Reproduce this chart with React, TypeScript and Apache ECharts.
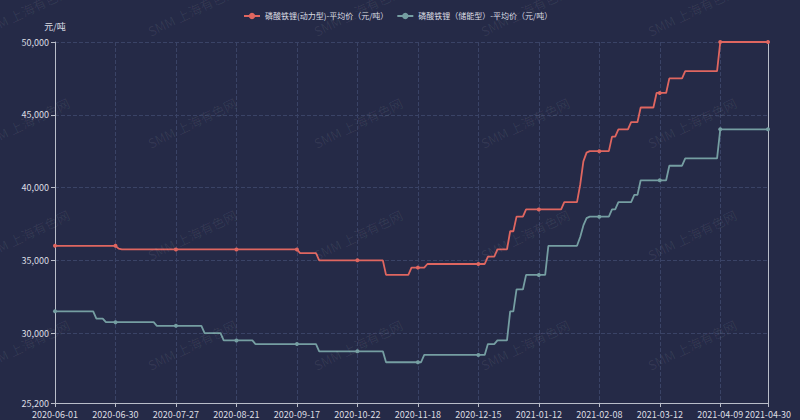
import { useEffect, useRef } from 'react';
import * as echarts from 'echarts';

const FONT = "'Noto Sans CJK SC', 'Noto Sans', sans-serif";

// Trading days (weekdays minus Chinese public holidays)
const startDate = '2020-06-01';
const endDate = '2021-04-30';
const holidays = [
  '2020-06-25', '2020-06-26',
  '2020-10-01', '2020-10-02', '2020-10-05', '2020-10-06', '2020-10-07', '2020-10-08',
  '2021-01-01',
  '2021-02-11', '2021-02-12', '2021-02-15', '2021-02-16', '2021-02-17',
  '2021-04-05',
];

// Tick labels shown on the x axis
const tickDates = [
  '2020-06-01', '2020-06-30', '2020-07-27', '2020-08-21', '2020-09-17', '2020-10-22',
  '2020-11-18', '2020-12-15', '2021-01-12', '2021-02-08', '2021-03-12', '2021-04-09', '2021-04-30',
];

const seriesNames = ['磷酸铁锂(动力型)-平均价（元/吨）', '磷酸铁锂（储能型）-平均价（元/吨）'];

// 磷酸铁锂(动力型) daily average price, one value per trading day
const powerPrice = [
  // Jun (20)
  36000, 36000, 36000, 36000, 36000, 36000, 36000, 36000, 36000, 36000,
  36000, 36000, 36000, 36000, 36000, 36000, 36000, 36000, 36000, 36000,
  // Jul (23)
  35800, 35750, 35750, 35750, 35750, 35750, 35750, 35750, 35750, 35750,
  35750, 35750, 35750, 35750, 35750, 35750, 35750, 35750, 35750, 35750,
  35750, 35750, 35750,
  // Aug (21)
  35750, 35750, 35750, 35750, 35750, 35750, 35750, 35750, 35750, 35750,
  35750, 35750, 35750, 35750, 35750, 35750, 35750, 35750, 35750, 35750,
  35750,
  // Sep (22)
  35750, 35750, 35750, 35750, 35750, 35750, 35750, 35750, 35750, 35750,
  35750, 35750, 35750, 35500, 35500, 35500, 35500, 35500, 35500, 35000,
  35000, 35000,
  // Oct (16)
  35000, 35000, 35000, 35000, 35000, 35000, 35000, 35000, 35000, 35000,
  35000, 35000, 35000, 35000, 35000, 35000,
  // Nov (21)
  35000, 35000, 34000, 34000, 34000, 34000, 34000, 34000, 34000, 34000,
  34500, 34500, 34500, 34500, 34500, 34750, 34750, 34750, 34750, 34750,
  34750,
  // Dec (23)
  34750, 34750, 34750, 34750, 34750, 34750, 34750, 34750, 34750, 34750,
  34750, 34750, 34750, 35250, 35250, 35250, 35750, 35750, 35750, 35750,
  37000, 37000, 38000,
  // Jan (20)
  38000, 38000, 38500, 38500, 38500, 38500, 38500, 38500, 38500, 38500,
  38500, 38500, 38500, 38500, 39000, 39000, 39000, 39000, 39000, 40200,
  // Feb (15)
  41800, 42400, 42500, 42500, 42500, 42500, 42500, 42500, 42500, 43500,
  43500, 44000, 44000, 44000, 44000,
  // Mar (23)
  44500, 44500, 44500, 45500, 45500, 45500, 45500, 45500, 46500, 46500,
  46500, 46500, 47500, 47500, 47500, 47500, 47500, 48000, 48000, 48000,
  48000, 48000, 48000,
  // Apr (21)
  48000, 48000, 48000, 48000, 48000, 50000, 50000, 50000, 50000, 50000,
  50000, 50000, 50000, 50000, 50000, 50000, 50000, 50000, 50000, 50000,
  50000,
];

// 磷酸铁锂（储能型） daily average price
const storagePrice = [
  // Jun (20)
  31500, 31500, 31500, 31500, 31500, 31500, 31500, 31500, 31500, 31500,
  31500, 31500, 31500, 31000, 31000, 31000, 30750, 30750, 30750, 30750,
  // Jul (23)
  30750, 30750, 30750, 30750, 30750, 30750, 30750, 30750, 30750, 30750,
  30750, 30750, 30500, 30500, 30500, 30500, 30500, 30500, 30500, 30500,
  30500, 30500, 30500,
  // Aug (21)
  30500, 30500, 30500, 30500, 30000, 30000, 30000, 30000, 30000, 30000,
  29500, 29500, 29500, 29500, 29500, 29500, 29500, 29500, 29500, 29500,
  29250,
  // Sep (22)
  29250, 29250, 29250, 29250, 29250, 29250, 29250, 29250, 29250, 29250,
  29250, 29250, 29250, 29250, 29250, 29250, 29250, 29250, 29250, 28750,
  28750, 28750,
  // Oct (16)
  28750, 28750, 28750, 28750, 28750, 28750, 28750, 28750, 28750, 28750,
  28750, 28750, 28750, 28750, 28750, 28750,
  // Nov (21)
  28750, 28750, 28000, 28000, 28000, 28000, 28000, 28000, 28000, 28000,
  28000, 28000, 28000, 28000, 28500, 28500, 28500, 28500, 28500, 28500,
  28500,
  // Dec (23)
  28500, 28500, 28500, 28500, 28500, 28500, 28500, 28500, 28500, 28500,
  28500, 28500, 28500, 29250, 29250, 29250, 29500, 29500, 29500, 29500,
  31500, 31500, 33000,
  // Jan (20)
  33000, 33000, 34000, 34000, 34000, 34000, 34000, 34000, 34000, 36000,
  36000, 36000, 36000, 36000, 36000, 36000, 36000, 36000, 36000, 36600,
  // Feb (15)
  37400, 37900, 38000, 38000, 38000, 38000, 38000, 38000, 38000, 38500,
  38500, 39000, 39000, 39000, 39000,
  // Mar (23)
  39000, 39500, 39500, 40500, 40500, 40500, 40500, 40500, 40500, 40500,
  40500, 40500, 41500, 41500, 41500, 41500, 41500, 42000, 42000, 42000,
  42000, 42000, 42000,
  // Apr (21)
  42000, 42000, 42000, 42000, 42000, 44000, 44000, 44000, 44000, 44000,
  44000, 44000, 44000, 44000, 44000, 44000, 44000, 44000, 44000, 44000,
  44000,
];

const yMin = 25200;
const yMax = 50000;

function buildDates(): string[] {
  const out: string[] = [];
  const d = new Date(startDate + 'T00:00:00Z');
  const end = new Date(endDate + 'T00:00:00Z');
  while (d <= end) {
    const day = d.getUTCDay();
    const s = d.toISOString().slice(0, 10);
    if (day !== 0 && day !== 6 && holidays.indexOf(s) < 0) out.push(s);
    d.setUTCDate(d.getUTCDate() + 1);
  }
  return out;
}

const WATERMARK = 'SMM 上海有色网';
const wmCols = [25, 192, 358, 525, 692];
const wmRows = [11, 123, 235, 345];

export default function App() {
  const ref = useRef<HTMLDivElement>(null);

  useEffect(() => {
    if (!ref.current) return;
    const chart = echarts.init(ref.current, null, { renderer: 'svg' });
    const dates = buildDates();
    const showTick = (_i: number, v: string) => tickDates.indexOf(v) >= 0;

    const axisColor = '#b9bdc9';
    const textColor = '#dcdde3';
    const splitColor = '#3a4366';

    const graphics: any[] = [];
    wmRows.forEach((y) =>
      wmCols.forEach((x) =>
        graphics.push({
          type: 'text',
          x,
          y,
          rotation: 0.45,
          silent: true,
          z: 100,
          style: {
            text: WATERMARK,
            fill: 'rgba(255,255,255,0.07)',
            font: `13px ${FONT}`,
            align: 'center',
            verticalAlign: 'middle',
          },
        })
      )
    );

    chart.setOption({
      animation: false,
      backgroundColor: '#252a47',
      textStyle: { fontFamily: FONT },
      graphic: graphics,
      legend: {
        top: 7,
        left: 238,
        itemWidth: 16,
        itemHeight: 8,
        itemGap: 8,
        textStyle: { color: textColor, fontSize: 8, fontFamily: FONT },
        data: seriesNames,
      },
      grid: { left: 55, right: 32, top: 42, bottom: 17 },
      xAxis: {
        type: 'category',
        boundaryGap: false,
        data: dates,
        axisLine: { lineStyle: { color: axisColor, width: 1 } },
        axisTick: { interval: showTick, length: 4, lineStyle: { color: axisColor } },
        axisLabel: {
          interval: showTick,
          color: textColor,
          fontSize: 9,
          lineHeight: 9,
          margin: 7,
          fontFamily: FONT,
        },
        splitLine: { show: true, interval: showTick, lineStyle: { color: splitColor, type: 'dashed' } },
      },
      yAxis: [
        {
          type: 'value',
          min: yMin,
          max: yMax,
          name: '元/吨',
          nameGap: 11,
          nameTextStyle: { color: textColor, fontSize: 9, fontFamily: FONT },
          axisLine: { show: true, lineStyle: { color: axisColor } },
          axisTick: { show: true, length: 4, lineStyle: { color: axisColor } },
          axisLabel: {
            color: textColor,
            fontSize: 9,
            lineHeight: 9,
            margin: 6,
            padding: [0, 0, 2, 0],
            fontFamily: FONT,
          },
          splitLine: { show: true, lineStyle: { color: splitColor, type: 'dashed' } },
        },
        {
          type: 'value',
          position: 'right',
          min: yMin,
          max: yMax,
          axisLine: { show: true, lineStyle: { color: axisColor } },
          axisTick: { show: false },
          axisLabel: { show: false },
          splitLine: { show: false },
        },
      ],
      series: [
        {
          name: seriesNames[0],
          type: 'line',
          data: powerPrice,
          symbol: 'circle',
          symbolSize: 4,
          color: '#df6660',
          lineStyle: { width: 1.8, color: '#df6660' },
          itemStyle: { color: '#df6660' },
        },
        {
          name: seriesNames[1],
          type: 'line',
          data: storagePrice,
          symbol: 'circle',
          symbolSize: 4,
          color: '#759ea2',
          lineStyle: { width: 1.8, color: '#759ea2' },
          itemStyle: { color: '#759ea2' },
        },
      ],
    });

    return () => chart.dispose();
  }, []);

  return (
    <div
      ref={ref}
      style={{ position: 'fixed', left: 0, top: 0, width: 800, height: 420 }}
    />
  );
}
